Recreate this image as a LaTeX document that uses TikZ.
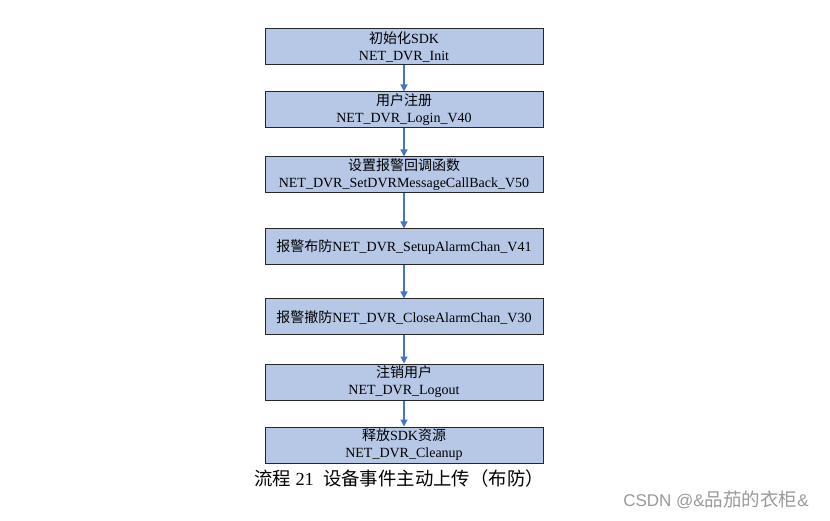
\documentclass[tikz,border=0pt]{standalone}
\usepackage{fontspec}
\setmainfont{Liberation Serif}
\newfontfamily\cjk{Noto Sans CJK SC}
\newfontfamily\wmfont{Liberation Sans}
\usetikzlibrary{arrows.meta}
\definecolor{boxfill}{RGB}{182,200,230}
\definecolor{flowblue}{RGB}{72,116,196}
\begin{document}
\begin{tikzpicture}[x=1pt, y=-1pt,
    stepbox/.style={draw=black!85, line width=1pt, fill=boxfill,
      minimum width=278pt, minimum height=36pt, inner sep=0pt,
      align=center, font=\fontsize{14}{17}\selectfont},
    flow/.style={-{Triangle[width=7pt,length=7pt]}, flowblue, line width=1.3pt}]
        % Canvas
        \useasboundingbox (0, 0) rectangle (830, 521);

        % Steps
        \node[stepbox] (init)   at (404, 47)  {{\cjk 初始化}SDK\\NET\_DVR\_Init};
        \node[stepbox] (login)  at (404, 110) {{\cjk 用户注册}\\NET\_DVR\_Login\_V40};
        \node[stepbox] (cb)     at (404, 175) {{\cjk 设置报警回调函数}\\NET\_DVR\_SetDVRMessageCallBack\_V50};
        \node[stepbox] (arm)    at (404, 247) {{\cjk 报警布防}NET\_DVR\_SetupAlarmChan\_V41};
        \node[stepbox] (disarm) at (404, 317) {{\cjk 报警撤防}NET\_DVR\_CloseAlarmChan\_V30};
        \node[stepbox] (logout) at (404, 382) {{\cjk 注销用户}\\NET\_DVR\_Logout};
        \node[stepbox] (clean)  at (404, 445) {{\cjk 释放}SDK{\cjk 资源}\\NET\_DVR\_Cleanup};

        % Flow arrows
        \draw[flow] (init) -- (login);
        \draw[flow] (login) -- (cb);
        \draw[flow] (cb) -- (arm);
        \draw[flow] (arm) -- (disarm);
        \draw[flow] (disarm) -- (logout);
        \draw[flow] (logout) -- (clean);

        % Caption and watermark
        \node[font=\fontsize{18.4}{21}\selectfont] (caption) at (399, 479)
          {{\cjk 流程}~21~~{\cjk 设备事件主动上传（布防）}};
        \node[font=\fontsize{17}{20}\selectfont\wmfont, text=black!40] (wm) at (716, 500)
          {CSDN @\&{\fontsize{18.5}{20}\selectfont\cjk 品茄的衣柜}\&};
\end{tikzpicture}
\end{document}
